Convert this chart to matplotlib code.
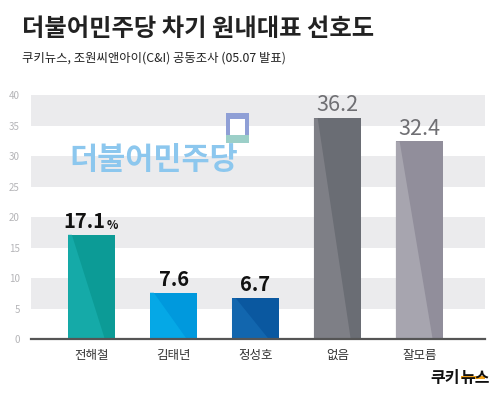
import matplotlib
matplotlib.use("Agg")
from matplotlib import pyplot as plt
from matplotlib.patches import Polygon, Rectangle

plt.rcParams['font.family'] = ['Noto Sans CJK KR', 'DejaVu Sans']

# data
categories = ["전해철", "김태년", "정성호", "없음", "잘모름"]
values = [17.1, 7.6, 6.7, 36.2, 32.4]
labels = ["17.1", "7.6", "6.7", "36.2", "32.4"]
dark_colors = ["#0c9b96", "#0099dd", "#0a58a0", "#6a6d74", "#918e9b"]
light_colors = ["#15aaa8", "#05a8e6", "#1266ae", "#7e7f86", "#a7a5af"]
label_bold = [True, True, True, False, False]
yticks = [0, 5, 10, 15, 20, 25, 30, 35, 40]

fig = plt.figure(figsize=(5, 3.98), dpi=100)
fig.patch.set_facecolor("white")
ax = fig.add_axes([0.062, 0.148, 0.908, 0.613])

# alternating grey bands
for lo in range(5, 40, 10):
    ax.axhspan(lo, lo + 5, color="#ebebed", zorder=0, lw=0)

x = list(range(len(categories)))
width = 0.575
bars = ax.bar(x, values, width=width, color=dark_colors, zorder=2)

# lighter diagonal facet on each bar
for b, lc in zip(bars, light_colors):
    x0, w, h = b.get_x(), b.get_width(), b.get_height()
    poly = Polygon([(x0, 0), (x0, h), (x0 + 0.08 * w, h), (x0 + 0.78 * w, 0)],
                   closed=True, color=lc, lw=0, zorder=3)
    ax.add_patch(poly)

# value labels
for i, (xi, v, lab, bold) in enumerate(zip(x, values, labels, label_bold)):
    if i == 0:
        # number shifted left, small percent sign after it
        ax.annotate(lab, xy=(xi, v + 0.5), xytext=(-5.5, 0),
                    textcoords="offset points", ha="center", va="bottom",
                    fontsize=14.5, fontweight="bold", color="#111111", zorder=4)
        ax.annotate("%", xy=(xi, v + 0.5), xytext=(10.5, 0),
                    textcoords="offset points", ha="left", va="bottom",
                    fontsize=8.5, fontweight="bold", color="#111111", zorder=4)
    elif bold:
        ax.text(xi, v + 0.5, lab, ha="center", va="bottom", fontsize=14.5,
                fontweight="bold", color="#111111", zorder=4)
    else:
        ax.text(xi, v + 0.3, lab, ha="center", va="bottom", fontsize=15.5,
                color="#6f6f73", zorder=4)

ax.set_xlim(-0.74, 4.80)
ax.set_ylim(0, 40)
ax.set_yticks(yticks)
ax.set_yticklabels([str(t) for t in yticks], fontsize=7, color="#b5b5b8")
ax.set_xticks(x)
ax.set_xticklabels(categories, fontsize=9, color="#333333")
ax.tick_params(axis="both", length=0)
ax.tick_params(axis="y", pad=8)
ax.tick_params(axis="x", pad=7)
for s in ["top", "right", "left"]:
    ax.spines[s].set_visible(False)
ax.spines["bottom"].set_color("#555555")
ax.spines["bottom"].set_linewidth(1.6)
ax.spines["bottom"].set_zorder(5)

# titles
fig.text(0.044, 0.928, "더불어민주당 차기 원내대표 선호도", fontsize=17.5,
         fontweight="bold", color="#222222", ha="left", va="center")
fig.text(0.044, 0.853, "쿠키뉴스, 조원씨앤아이(C&I) 공동조사 (05.07 발표)",
         fontsize=8.9, color="#222222", ha="left", va="center")

# party watermark
fig.text(0.138, 0.597, "더불어민주당", fontsize=22, fontweight="heavy",
         color="#8cc7ee", ha="left", va="center")
fig.patches.append(Rectangle((0.452, 0.64), 0.046, 0.076, transform=fig.transFigure,
                             facecolor="#8f9fd6", lw=0, zorder=1))
fig.patches.append(Rectangle((0.46, 0.66), 0.03, 0.04, transform=fig.transFigure,
                             facecolor="#ffffff", lw=0, zorder=2))
fig.patches.append(Rectangle((0.452, 0.64), 0.046, 0.02, transform=fig.transFigure,
                             facecolor="#9ccfc8", lw=0, zorder=2))

# logo
fig.text(0.92, 0.05, "쿠키", fontsize=11.5, fontweight="heavy",
         color="#111111", ha="right", va="center")
fig.text(0.92, 0.05, "뉴스", fontsize=11.5, fontweight="heavy",
         color="#111111", ha="left", va="center")
fig.patches.append(Rectangle((0.922, 0.047), 0.048, 0.008, transform=fig.transFigure,
                             facecolor="#f5a31a", lw=0, zorder=3))

fig.savefig("out.png", dpi=100)
